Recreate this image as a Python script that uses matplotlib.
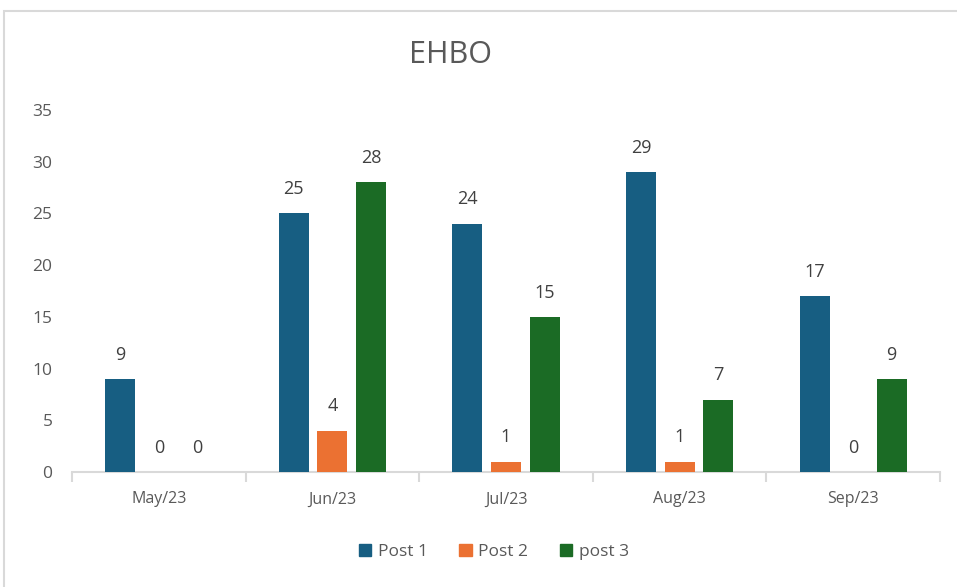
import matplotlib.pyplot as plt
import matplotlib.patches as mpatches
import numpy as np

months = ['May/23', 'Jun/23', 'Jul/23', 'Aug/23', 'Sep/23']
post_1 = [9, 25, 24, 29, 17]
post_2 = [0, 4, 1, 1, 0]
post_3 = [0, 28, 15, 7, 9]
series_names = ['Post 1', 'Post 2', 'post 3']
series_colors = ['#175E82', '#EB7132', '#1B6B25']

plt.rcParams['font.family'] = ['Open Sans', 'DejaVu Sans']
text_gray = '#595959'

fig = plt.figure(figsize=(9.57, 5.87), dpi=100)
ax = fig.add_axes([72 / 957, 1 - 472 / 587, 868 / 957, 362 / 587])

# chart border like the spreadsheet chart area
fig.patches.append(mpatches.Rectangle((4 / 957, -0.05), 1.1, 1 - 11 / 587 + 0.05,
                                      transform=fig.transFigure, fill=False,
                                      edgecolor='#D9D9D9', linewidth=1.5))

x = np.arange(len(months))
bar_width = 0.173
step = 0.222
values = [post_1, post_2, post_3]

for j, (vals, name, color) in enumerate(zip(values, series_names, series_colors)):
    bars = ax.bar(x + (j - 1) * step, vals, bar_width, color=color, label=name, zorder=3)
    for b, v in zip(bars, vals):
        ax.annotate(str(v), (b.get_x() + b.get_width() / 2, v),
                    xytext=(0, 11), textcoords='offset points',
                    ha='center', va='bottom', fontsize=13, color='#404040')

ax.set_xlim(-0.5, len(months) - 0.5)
ax.set_ylim(0, 35)
ax.set_yticks(range(0, 36, 5))
ax.tick_params(axis='y', length=0, labelsize=12.5, labelcolor=text_gray, pad=14)

ax.set_xticks(x)
ax.set_xticklabels(months)
ax.tick_params(axis='x', length=0, labelsize=11.5, labelcolor=text_gray, pad=14)
ax.set_xticks(np.arange(-0.5, len(months), 1), minor=True)
ax.tick_params(axis='x', which='minor', length=7, width=1.5, color='#D9D9D9', direction='out')

for s in ['top', 'right', 'left']:
    ax.spines[s].set_visible(False)
ax.spines['bottom'].set_color('#D9D9D9')
ax.spines['bottom'].set_linewidth(1.5)

fig.text(451 / 957, 1 - 55 / 587, 'EHBO', ha='center', va='center',
         fontsize=22, color=text_gray)

handles = [mpatches.Patch(color=c, label=n) for n, c in zip(series_names, series_colors)]
fig.legend(handles=handles, loc='center', bbox_to_anchor=(494 / 957, 1 - 552 / 587),
           ncol=3, frameon=False, fontsize=12.5, handlelength=0.7, handleheight=0.7,
           handletextpad=0.4, columnspacing=1.8, labelcolor=text_gray)

fig.savefig('out.png', dpi=100)
